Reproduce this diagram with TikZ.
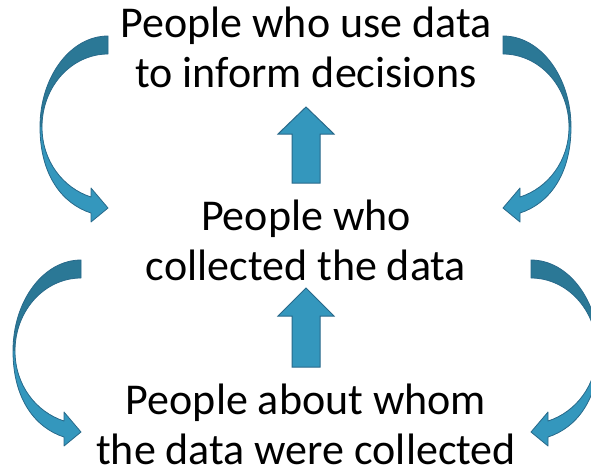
\documentclass[tikz,border=0pt]{standalone}
\usepackage{fontspec}
\setmainfont{Carlito}

\definecolor{arrowdark}{HTML}{2B7896}
\definecolor{arrowlight}{HTML}{3497BD}
\definecolor{arrowline}{HTML}{28698A}

\tikzset{
  % base anchor sits on the last line
  stage/.style={align=center, inner sep=0pt, anchor=base,
    font=\fontsize{44}{50}\selectfont},
  blockarrow/.style={fill=arrowlight, draw=arrowline, line width=1pt},
  % curved return arrow, tail at the origin, pointing back to the right
  bend arrow/.pic={
    \fill[arrowdark] (0,0) .. controls (-37.5,0) and (-68,40.8) .. (-68,91)
      -- (-66,91) .. controls (-66,50) and (-36,18) .. (0,18) -- cycle;
    \fill[arrowlight] (-68,91) .. controls (-68,140) and (-45,168) .. (-17,177)
      -- (-17,186) -- (0,172) -- (-17,152) -- (-17,161)
      .. controls (-45,152) and (-66,125) .. (-66,91) -- cycle;
    \draw[arrowline, line width=0.8pt, line join=round]
      (0,0) .. controls (-37.5,0) and (-68,40.8) .. (-68,91)
      .. controls (-68,140) and (-45,168) .. (-17,177)
      -- (-17,186) -- (0,172) -- (-17,152) -- (-17,161)
      .. controls (-45,152) and (-66,125) .. (-66,91)
      .. controls (-66,50) and (-36,18) .. (0,18) -- cycle;
  }
}

\begin{document}
\begin{tikzpicture}[x=1pt,y=-1pt]
\useasboundingbox (0,0) rectangle (591,467);
\clip (0,0) rectangle (591,467);

\node[stage] (users) at (306,87) {People who use data\\to inform decisions};
\node[stage] (collectors) at (306,280) {People who\\collected the data};
\node[stage] (subjects) at (306,464) {People about whom\\the data were collected};

% upward block arrows
\draw[blockarrow] (306,107) -- (334,134) -- (320,134) -- (320,183)
  -- (292,183) -- (292,134) -- (278,134) -- cycle;
\draw[blockarrow] (306,288) -- (334,316) -- (320,316) -- (320,367)
  -- (292,367) -- (292,316) -- (278,316) -- cycle;

% side arrows
\pic at (108,36) {bend arrow};
\pic[xscale=-1] at (503,36) {bend arrow};
\pic at (81,260) {bend arrow};
\pic[xscale=-1] at (531,260) {bend arrow};
\end{tikzpicture}
\end{document}
